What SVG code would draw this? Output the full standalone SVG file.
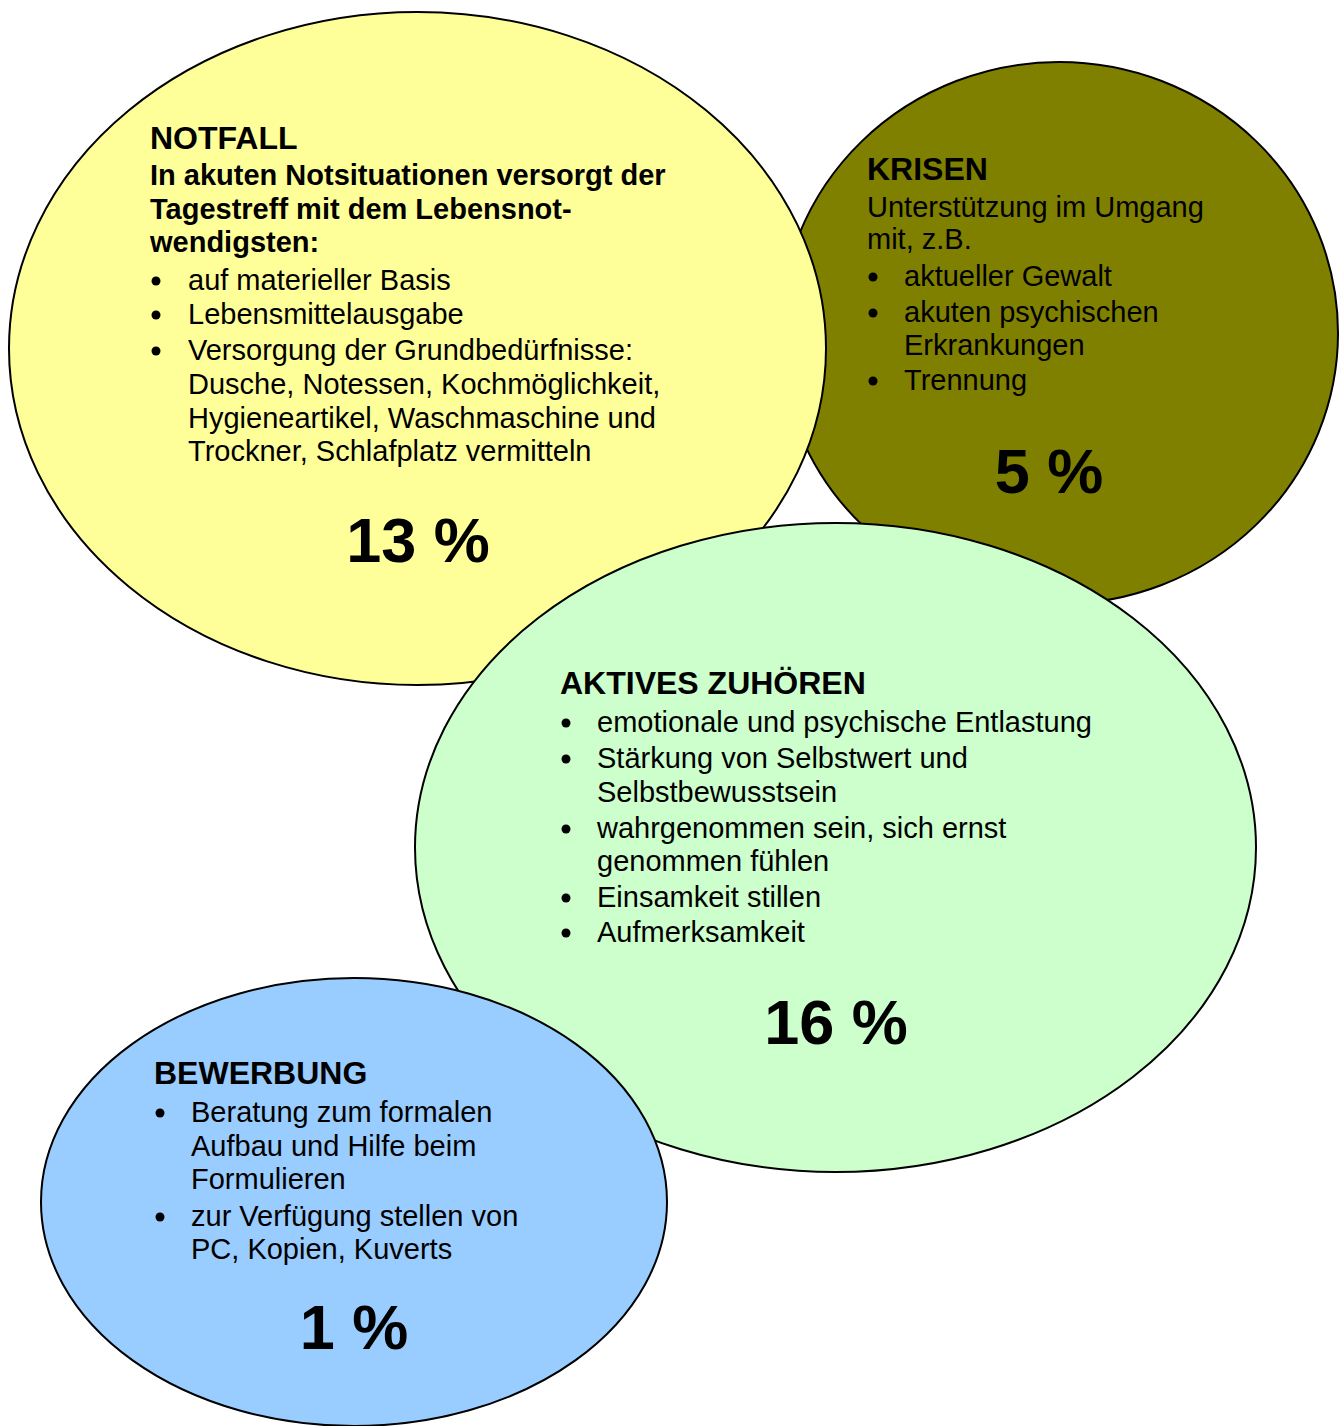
<svg xmlns="http://www.w3.org/2000/svg" width="1341" height="1426" viewBox="0 0 1341 1426">
<style>
.e{stroke:#000;stroke-width:2}
text{font-family:"Liberation Sans",Arial,sans-serif;fill:#000}
.t{font-size:29px}
.b{font-weight:bold}
.h{font-size:32px;font-weight:bold}
.p{font-size:63px;font-weight:bold;text-anchor:middle}
</style>
<defs><circle id="bul" r="4.5" fill="#000"/></defs>
<rect width="1341" height="1426" fill="#fff"/>
<g id="krisen">
<ellipse class="e" cx="1059" cy="333" rx="279" ry="271" fill="#808000"/>
</g>
<g id="notfall">
<ellipse class="e" cx="417.5" cy="348.5" rx="408.5" ry="336.5" fill="#FFFF99"/>
</g>
<g id="zuhoeren">
<ellipse class="e" cx="835.5" cy="847.5" rx="420.5" ry="324.5" fill="#CCFFCC"/>
</g>
<g id="bewerbung">
<ellipse class="e" cx="354" cy="1202" rx="313" ry="224" fill="#99CCFF"/>
</g>
<g id="notfall-text" class="t">
<text x="150" y="149" class="h">NOTFALL</text>
<text x="150" y="185" class="b">In akuten Notsituationen versorgt der</text>
<text x="150" y="219" class="b">Tagestreff mit dem Lebensnot-</text>
<text x="150" y="252" class="b">wendigsten:</text>
<use href="#bul" x="156" y="281"/><text x="188" y="290">auf materieller Basis</text>
<use href="#bul" x="156" y="315"/><text x="188" y="324">Lebensmittelausgabe</text>
<use href="#bul" x="156" y="351"/><text x="188" y="360">Versorgung der Grundbedürfnisse:</text>
<text x="188" y="394">Dusche, Notessen, Kochmöglichkeit,</text>
<text x="188" y="428">Hygieneartikel, Waschmaschine und</text>
<text x="188" y="461">Trockner, Schlafplatz vermitteln</text>
<text x="418" y="562" class="p">13 %</text>
</g>
<g id="krisen-text" class="t">
<text x="867" y="180" class="h">KRISEN</text>
<text x="867" y="217">Unterstützung im Umgang</text>
<text x="867" y="249">mit, z.B.</text>
<use href="#bul" x="873" y="277"/><text x="904" y="286">aktueller Gewalt</text>
<use href="#bul" x="873" y="313"/><text x="904" y="322">akuten psychischen</text>
<text x="904" y="355">Erkrankungen</text>
<use href="#bul" x="873" y="381"/><text x="904" y="390">Trennung</text>
<text x="1049" y="493" class="p">5 %</text>
</g>
<g id="zuhoeren-text" class="t">
<text x="560" y="694" class="h">AKTIVES ZUHÖREN</text>
<use href="#bul" x="566" y="723"/><text x="597" y="732">emotionale und psychische Entlastung</text>
<use href="#bul" x="566" y="759"/><text x="597" y="768">Stärkung von Selbstwert und</text>
<text x="597" y="802">Selbstbewusstsein</text>
<use href="#bul" x="566" y="829"/><text x="597" y="838">wahrgenommen sein, sich ernst</text>
<text x="597" y="871">genommen fühlen</text>
<use href="#bul" x="566" y="898"/><text x="597" y="907">Einsamkeit stillen</text>
<use href="#bul" x="566" y="933"/><text x="597" y="942">Aufmerksamkeit</text>
<text x="836" y="1044" class="p">16 %</text>
</g>
<g id="bewerbung-text" class="t">
<text x="154" y="1084" class="h">BEWERBUNG</text>
<use href="#bul" x="160" y="1113"/><text x="191" y="1122">Beratung zum formalen</text>
<text x="191" y="1156">Aufbau und Hilfe beim</text>
<text x="191" y="1189">Formulieren</text>
<use href="#bul" x="160" y="1217"/><text x="191" y="1226">zur Verfügung stellen von</text>
<text x="191" y="1259">PC, Kopien, Kuverts</text>
<text x="354" y="1349" class="p">1 %</text>
</g>
<g id="connectors"/>
</svg>
